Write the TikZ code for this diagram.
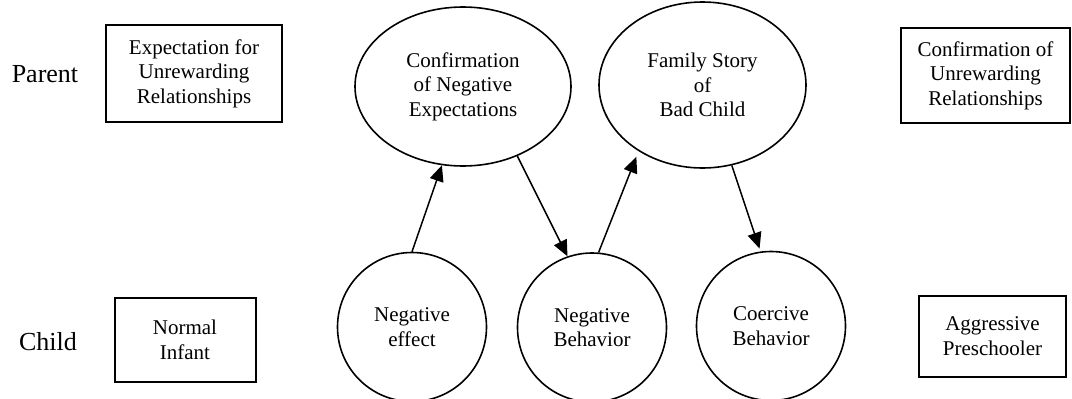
\documentclass[tikz,border=0pt]{standalone}
\usepackage{fontspec}
\setmainfont{Liberation Serif}
\usetikzlibrary{shapes.geometric,arrows.meta}
\begin{document}
\begin{tikzpicture}[x=1pt,y=-1pt,
  lbl/.style={font=\fontsize{26}{30}\selectfont, inner sep=0pt},
  txt/.style={font=\fontsize{21}{24.5}\selectfont, align=center},
  boxnode/.style={txt, draw, line width=2pt, rectangle, inner sep=0pt},
  ell/.style={txt, draw, line width=1.6pt, ellipse, inner sep=0pt},
  circ/.style={txt, draw, line width=1.6pt, circle, inner sep=0pt, minimum size=149pt},
  arr/.style={line width=1.5pt, -{Triangle[length=16pt,width=14pt]}}
]
\useasboundingbox (0,0) rectangle (1072,399);
\fill[white] (0,0) rectangle (1072,399);

\node[lbl] (parent) at (45,74) {Parent};
\node[lbl] (child) at (48,342) {Child};

\node[boxnode, minimum width=176pt, minimum height=97pt] (b1) at (194,73.5) {Expectation for\\Unrewarding\\Relationships};
\node[boxnode, minimum width=169pt, minimum height=95pt] (b2) at (985.5,75.5) {Confirmation of\\Unrewarding\\Relationships};
\node[boxnode, minimum width=141pt, minimum height=84pt] (b3) at (185,340) {Normal\\Infant};
\node[boxnode, minimum width=147pt, minimum height=81pt] (b4) at (992.5,336) {Aggressive\\Preschooler};

\node[ell, minimum width=216pt, minimum height=159pt] (e1) at (463,86.5) {Confirmation\\of Negative\\Expectations};
\node[ell, minimum width=207pt, minimum height=166pt] (e2) at (702.5,85) {Family Story\\of\\Bad Child};

\node[circ] (ne) at (412,327) {Negative\\effect};
\node[circ] (nb) at (592,327.5) {Negative\\Behavior};
\node[circ] (cb) at (771,326) {Coercive\\Behavior};

\draw[arr] (ne.north) -- (e1.-105);
\draw[arr] (e1.-52) -- (nb.109);
\draw[arr, shorten >=6pt] (nb.85) -- (e2.-134);
\draw[arr, shorten >=3pt] (e2.-70) -- (cb.98);
\end{tikzpicture}
\end{document}
